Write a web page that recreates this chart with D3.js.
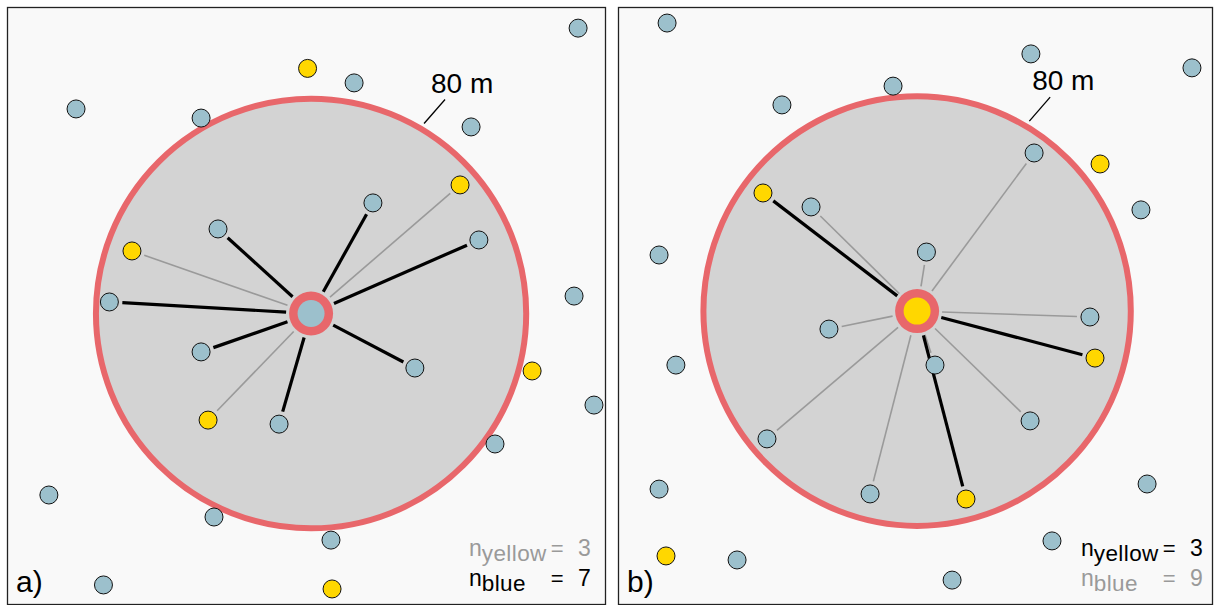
<!DOCTYPE html>
<html><head><meta charset="utf-8">
<script src="https://cdn.jsdelivr.net/npm/d3@7"></script>
<style>
body{margin:0;background:#ffffff;}
svg{display:block;font-family:"Liberation Sans",Arial,Helvetica,sans-serif;}
</style>
</head><body>
<svg id="chart" width="1216" height="605"></svg>
<script>
// ---- data (metres, origin at lower-left of each panel) ----
const panelLabels = ["a)", "b)"];
const bufferRadius = 80;          // m
const bufferLabel = "80 m";
const plotExtent = 222;           // m shown across each panel
const legendKeys = ["yellow", "blue"];

const focalA = [112.7, 108.2, "blue"];
const pointsA = [
  [212.0,214.5,"blue"],[111.4,199.5,"yellow"],[128.7,194.1,"blue"],[25.3,184.4,"blue"],
  [71.8,181.0,"blue"],[172.2,177.7,"blue"],[168.1,156.1,"yellow"],[135.7,149.4,"blue"],
  [78.1,139.7,"blue"],[175.1,135.6,"blue"],[46.1,131.5,"yellow"],[210.5,114.7,"blue"],
  [37.7,112.5,"blue"],[71.8,93.9,"blue"],[151.3,87.9,"blue"],[194.9,86.8,"yellow"],
  [217.9,74.1,"blue"],[74.4,68.5,"yellow"],[100.8,67.0,"blue"],[181.1,59.6,"blue"],
  [15.2,40.6,"blue"],[76.6,32.4,"blue"],[120.1,23.8,"blue"],[35.5,7.1,"blue"],
  [120.5,5.6,"yellow"]
];

const focalB = [111.6, 109.1, "yellow"];
const pointsB = [
  [18.0,216.4,"blue"],[154.2,204.9,"blue"],[214.5,199.7,"blue"],[102.6,192.9,"blue"],
  [61.0,185.9,"blue"],[155.4,168.0,"blue"],[180.1,163.9,"yellow"],[195.4,146.8,"blue"],
  [53.9,153.1,"yellow"],[71.9,147.9,"blue"],[115.1,131.1,"blue"],[15.0,130.0,"blue"],
  [176.3,106.9,"blue"],[78.6,102.4,"blue"],[178.2,91.6,"yellow"],[118.3,89.0,"blue"],
  [21.3,89.0,"blue"],[153.9,68.2,"blue"],[55.4,61.5,"blue"],[197.7,44.7,"blue"],
  [15.0,42.8,"blue"],[94.0,41.0,"blue"],[129.9,39.1,"yellow"],[162.1,23.5,"blue"],
  [17.6,17.9,"yellow"],[44.2,16.4,"blue"],[124.7,8.9,"blue"]
];

// ---- styling / layout ----
const fillColor = {blue:"#9cc0cc", yellow:"#ffd700"};
const ringRed = "#e8676b";
const panelsLayout = [
  {x0:8, x1:605, labelDx:-14, legendDx:-136},
  {x0:619, x1:1212, labelDx:-18, legendDx:-131}
];
const Y0 = 8, Y1 = 604;

const svg = d3.select("#chart");
const panels = [
  {label:panelLabels[0], focal:focalA, points:pointsA},
  {label:panelLabels[1], focal:focalB, points:pointsB}
];

panels.forEach((p, i) => {
  const L = panelsLayout[i];
  const x = d3.scaleLinear().domain([0, plotExtent]).range([L.x0, L.x1]);
  const y = d3.scaleLinear().domain([0, plotExtent]).range([Y1, Y0]);
  const g = svg.append("g");

  g.append("rect")
    .attr("x", L.x0).attr("y", Y0)
    .attr("width", L.x1 - L.x0).attr("height", Y1 - Y0)
    .attr("fill", "#f9f9f9");

  const [fx, fy, ftype] = p.focal;
  const cx = x(fx), cy = y(fy);
  const rx = x(bufferRadius) - x(0), ry = y(0) - y(bufferRadius);

  g.append("ellipse")
    .attr("cx", cx).attr("cy", cy).attr("rx", rx).attr("ry", ry)
    .attr("fill", "#d3d3d3").attr("stroke", ringRed).attr("stroke-width", 6);

  const pts = p.points.map(d => ({x:d[0], y:d[1], type:d[2]}));
  const inside = pts.filter(d => Math.hypot(d.x - fx, d.y - fy) <= bufferRadius);

  g.selectAll("line.link").data(inside).join("line")
    .attr("class", "link")
    .each(function(d){
      const px = x(d.x), py = y(d.y);
      const dx = px - cx, dy = py - cy, len = Math.hypot(dx, dy);
      const ux = dx/len, uy = dy/len;
      d3.select(this)
        .attr("x1", cx + ux*25).attr("y1", cy + uy*25)
        .attr("x2", px - ux*13).attr("y2", py - uy*13);
    })
    .attr("stroke", d => d.type === ftype ? "#000" : "#9a9a9a")
    .attr("stroke-width", d => d.type === ftype ? 3.2 : 1.6);

  g.selectAll("circle.pt").data(pts).join("circle")
    .attr("class", "pt")
    .attr("cx", d => x(d.x)).attr("cy", d => y(d.y)).attr("r", 9)
    .attr("fill", d => fillColor[d.type])
    .attr("stroke", "#111").attr("stroke-width", 1);

  g.append("circle").attr("cx", cx).attr("cy", cy).attr("r", 22).attr("fill", ringRed);
  g.append("circle").attr("cx", cx).attr("cy", cy).attr("r", 13.5).attr("fill", fillColor[ftype]);

  // leader + "80 m"
  const a1 = 59.3 * Math.PI/180, a2 = 58 * Math.PI/180;
  const lx1 = x(fx + 82.3*Math.cos(a1)), ly1 = y(fy + 82.3*Math.sin(a1));
  const lx2 = x(fx + 94*Math.cos(a2)), ly2 = y(fy + 94*Math.sin(a2));
  g.append("line").attr("x1", lx1).attr("y1", ly1).attr("x2", lx2).attr("y2", ly2)
    .attr("stroke", "#000").attr("stroke-width", 1.3);
  g.append("text").attr("x", lx2 + L.labelDx).attr("y", ly2 - 7)
    .attr("font-size", 28).attr("fill", "#000").text(bufferLabel);

  // panel label
  g.append("text").attr("x", L.x0 + 8).attr("y", 592)
    .attr("font-size", 30).attr("fill", "#000").text(p.label);

  // legend
  const lx = L.x1 + L.legendDx;
  let eqX = null;
  legendKeys.forEach((k, j) => {
    const n = inside.filter(d => d.type === k).length;
    const col = k === ftype ? "#000" : "#9a9a9a";
    const by = 556 + j*30;
    const t = g.append("text").attr("x", lx).attr("y", by).attr("fill", col);
    t.append("tspan").attr("font-size", 23).text("n");
    t.append("tspan").attr("font-size", 22.5).attr("dy", 5).attr("letter-spacing", 0.4).text(k);
    if (eqX === null) eqX = lx + t.node().getComputedTextLength() + 4;
    g.append("text").attr("x", eqX).attr("y", by).attr("fill", col)
      .attr("font-size", 22).text("=");
    g.append("text").attr("x", eqX + 40).attr("y", by).attr("fill", col)
      .attr("font-size", 23).attr("text-anchor", "end").text(n);
  });

  g.append("rect")
    .attr("x", L.x0 - 0.5).attr("y", Y0 - 0.5)
    .attr("width", L.x1 - L.x0 + 1).attr("height", Y1 - Y0 + 1)
    .attr("fill", "none").attr("stroke", "#222").attr("stroke-width", 1.3);
});
</script>
</body></html>
